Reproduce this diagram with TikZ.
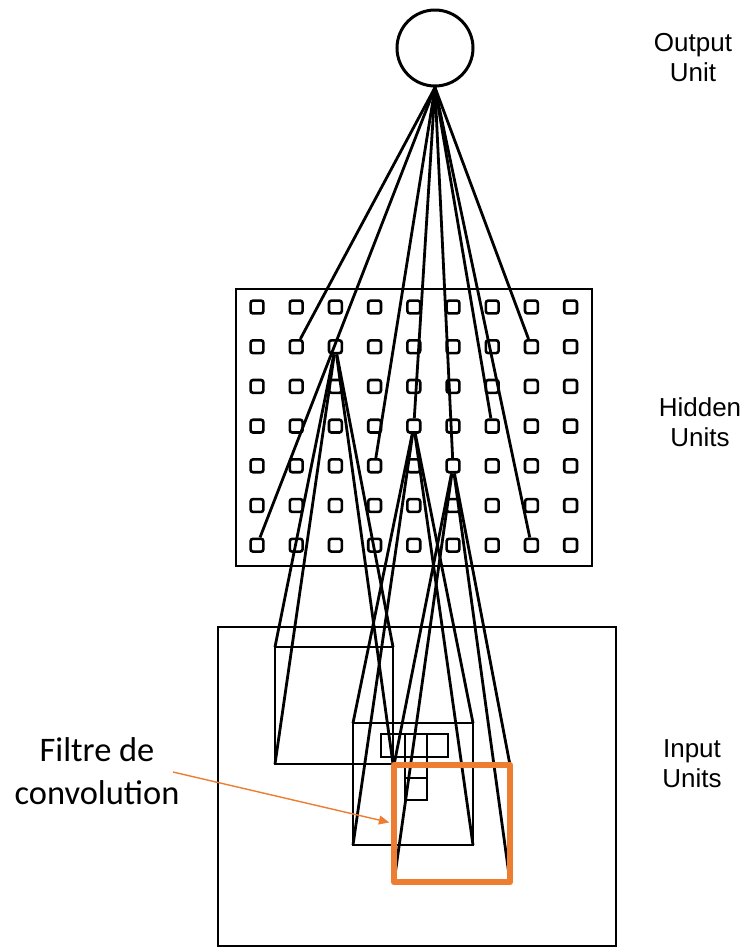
\documentclass[tikz,border=0pt]{standalone}
\usepackage{fontspec}
\setmainfont{Liberation Sans}
\newfontfamily\calloutfont{Carlito}
\usetikzlibrary{arrows.meta}
\definecolor{filterorange}{RGB}{237,125,49}
\tikzset{
  unitnode/.style={
    circle,
    draw,
    line width=0.75mm,
    minimum size=19mm,
    inner sep=0pt
  },
  cell/.style={
    rectangle,
    rounded corners=0.6mm,
    draw,
    line width=0.65mm,
    minimum size=3.2mm,
    inner sep=0pt
  },
  field/.style={
    rectangle,
    draw,
    line width=0.7mm,
    inner sep=0pt,
    outer sep=0pt
  },
  frame/.style={draw, line width=0.6mm},
  link/.style={line width=0.7mm},
  layerlabel/.style={align=center, inner sep=0pt, font=\fontsize{18.5}{21.5}\selectfont},
  filterframe/.style={draw=filterorange, line width=1.6mm, line join=round},
  callout/.style={draw=filterorange, line width=0.35mm, shorten >=1.2mm,
    -{Triangle[length=2.6mm, width=2.2mm]}}
}

\begin{document}
\begin{tikzpicture}[x=0.25mm, y=-0.25mm]
  \useasboundingbox (0,0) rectangle (748,949);

  \node[unitnode] (out) at (435,48) {};

  \draw[frame] (236,289) rectangle (592,566);
  \foreach \i in {0,...,8}
    \foreach \j in {0,...,6}
      \node[cell] (h-\i-\j) at ({257+39.2*\i},{307+39.7*\j}) {};

  \draw[frame] (218,627) rectangle (616,946);
  \node[field, minimum width=29.5mm, minimum height=29.25mm] (fa) at (334,705.5) {};
  \node[field, minimum width=30mm, minimum height=30.5mm] (fb) at (413,784) {};
  \node[inner sep=0pt, outer sep=0pt, minimum width=29mm, minimum height=29.25mm] (fc) at (452,823.5) {};

  % shared weights
  \draw[link] (381,734) rectangle (448,757);
  \draw[link] (405,734) -- (405,757) (427,734) -- (427,757);
  \draw[link] (405,757) rectangle (427,800);
  \draw[link] (405,778) -- (427,778);

  \foreach \c/\r in {1/1, 0/6, 3/4, 4/3, 5/4, 6/3, 7/6, 7/1}
    \draw[link] (out.south) -- (h-\c-\r);

  \foreach \f/\c/\r in {fa/2/1, fb/4/3, fc/5/4}
    \foreach \corner in {north west, north east, south west, south east}
      \draw[link] (h-\c-\r) -- (\f.\corner);

  \draw[filterframe] (fc.north west) rectangle (fc.south east);

  \node[layerlabel] (outlbl) at (693,57.5) {Output\\Unit};
  \node[layerlabel] (hiddenlbl) at (700,422) {Hidden\\Units};
  \node[layerlabel] (inputlbl) at (692,764) {Input\\Units};
  \node[align=center, inner sep=0pt, font=\calloutfont\fontsize{24.5}{30.6}\selectfont] (filtre) at (97,771) {Filtre de\\convolution};
  \coordinate (tail) at (173,772);
  \draw[callout] (tail) -- (fc.west);
\end{tikzpicture}
\end{document}
